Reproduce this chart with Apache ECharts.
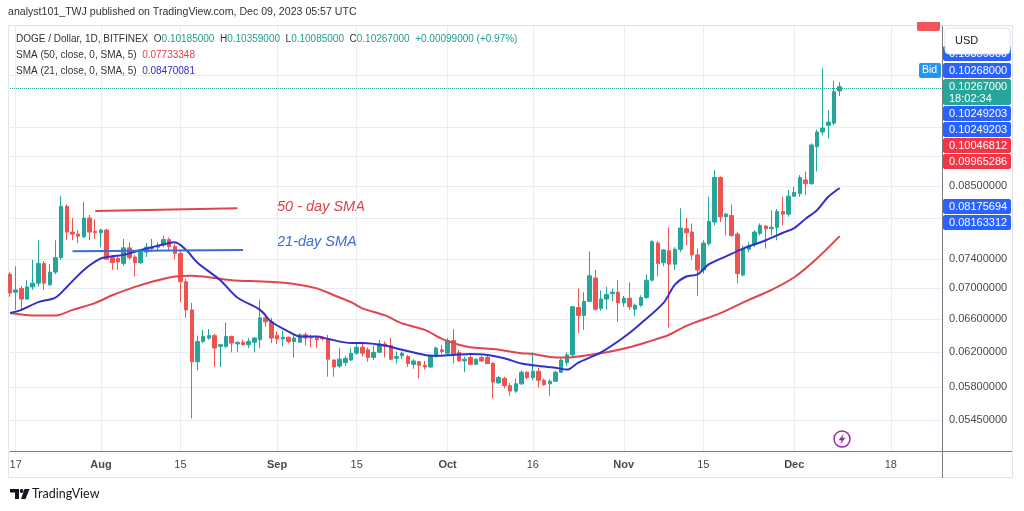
<!DOCTYPE html>
<html>
<head>
<meta charset="utf-8">
<script src="https://cdn.jsdelivr.net/npm/echarts@6.0.0/dist/echarts.min.js"></script>
<style>
html, body { margin: 0; padding: 0; background: #fff; }
#main { width: 1024px; height: 511px; }
</style>
</head>
<body>
<div id="main"></div>
<script>
// 日线数据: 2023-07-16 起, 每天一根
var startDate = '2023-07-16';
var dayCount = 165;

var opens = [
    .0719, .0695, .0700, .0686, .0702, .0707, .0734, .0705, .0722, .0742,
    .0818, .0779, .0776, .0772, .0800, .0780, .0778, .0782, .0742, .0741,
    .0734, .0756, .0743, .0735, .0750, .0755, .0757, .0760, .0768, .0758,
    .0748, .0709, .0672, .0609, .0633, .0637, .0640, .0627, .0627, .0639,
    .0630, .0632, .0629, .0632, .0635, .0662, .0657, .0640, .0636, .0638,
    .0633, .0632, .0641, .0639, .0638, .0637, .0635, .0611, .0604, .0608,
    .0611, .0619, .0626, .0623, .0614, .0620, .0630, .0628, .0613, .0616,
    .0615, .0606, .0609, .0605, .0603, .0615, .0623, .0619, .0634, .0620,
    .0610, .0614, .0606, .0614, .0614, .0607, .0585, .0590, .0582, .0576,
    .0584, .0597, .0591, .0598, .0588, .0584, .0587, .0597, .0608, .0617,
    .0675, .0665, .0683, .0714, .0674, .0686, .0693, .0695, .0681, .0687,
    .0673, .0678, .0688, .0711, .0763, .0735, .0752, .0733, .0754, .0784,
    .0779, .0746, .0725, .0762, .0794, .0864, .0802, .0804, .0776, .0718,
    .0754, .0762, .0777, .0788, .0784, .0786, .0810, .0806, .0834, .0838,
    .0860, .0854, .0916, .0942, .0954, .0958, .10185
];
var highs = [
    .0722, .0730, .0703, .0711, .0739, .0767, .0737, .0733, .0767, .0834,
    .0821, .0800, .0782, .0825, .0805, .0798, .0784, .0784, .0746, .0744,
    .0769, .0764, .0746, .0753, .0763, .0769, .0764, .0774, .0771, .0762,
    .0752, .0713, .0681, .0640, .0647, .0648, .0642, .0630, .0656, .0640,
    .0633, .0635, .0637, .0638, .0685, .0667, .0662, .0645, .0646, .0639,
    .0641, .0643, .0644, .0641, .0640, .0639, .0641, .0612, .0625, .0616,
    .0625, .0632, .0630, .0626, .0628, .0635, .0633, .0637, .0621, .0621,
    .0617, .0612, .0610, .0610, .0618, .0627, .0629, .0637, .0648, .0623,
    .0615, .0617, .0613, .0616, .0617, .0609, .0593, .0592, .0585, .0590,
    .0599, .0598, .0620, .0602, .0590, .0589, .0599, .0613, .0620, .0677,
    .0700, .0695, .0751, .0725, .0697, .0702, .0700, .0711, .0690, .0708,
    .0680, .0691, .0719, .0767, .0766, .0754, .0786, .0757, .0815, .0800,
    .0792, .0755, .0767, .0833, .0876, .0866, .0808, .0821, .0779, .0759,
    .0764, .0782, .0792, .0789, .0812, .0814, .0833, .0844, .0849, .0868,
    .0874, .0922, .0946, .1063, .0982, .1038, .10359
];
var lows = [
    .0689, .0672, .0672, .0685, .0698, .0703, .0698, .0703, .0719, .0739,
    .0767, .0767, .0763, .0770, .0767, .0769, .0757, .0739, .0725, .0725,
    .0731, .0739, .0716, .0733, .0743, .0750, .0753, .0757, .0752, .0740,
    .0682, .0662, .0547, .0599, .0631, .0635, .0603, .0603, .0625, .0620,
    .0620, .0628, .0625, .0620, .0625, .0651, .0631, .0630, .0627, .0631,
    .0614, .0631, .0628, .0626, .0625, .0634, .0592, .0592, .0602, .0604,
    .0610, .0617, .0615, .0609, .0611, .0619, .0614, .0611, .0607, .0612,
    .0603, .0601, .0590, .0600, .0602, .0614, .0618, .0617, .0607, .0609,
    .0597, .0605, .0605, .0609, .0606, .0568, .0584, .0579, .0571, .0574,
    .0583, .0589, .0588, .0580, .0582, .0571, .0586, .0596, .0604, .0615,
    .0643, .0647, .0682, .0671, .0671, .0672, .0683, .0657, .0676, .0672,
    .0664, .0676, .0686, .0709, .0716, .0730, .0650, .0725, .0750, .0760,
    .0739, .0690, .0720, .0759, .0789, .0794, .0774, .0772, .0707, .0716,
    .0750, .0757, .0774, .0755, .0774, .0767, .0789, .0802, .0833, .0833,
    .0836, .0852, .0874, .0936, .0930, .0954, .10085
];
var closes = [
    .0694, .0698, .0686, .0702, .0707, .0734, .0707, .0722, .0742, .0818,
    .0779, .0776, .0773, .0800, .0779, .0778, .0782, .0740, .0735, .0736,
    .0756, .0742, .0735, .0750, .0757, .0757, .0760, .0768, .0758, .0748,
    .0709, .0672, .0609, .0633, .0639, .0640, .0625, .0629, .0639, .0631,
    .0632, .0629, .0633, .0637, .0662, .0657, .0637, .0636, .0638, .0633,
    .0637, .0641, .0637, .0637, .0635, .0636, .0612, .0603, .0612, .0613,
    .0619, .0626, .0619, .0614, .0620, .0630, .0627, .0612, .0615, .0619,
    .0607, .0610, .0605, .0603, .0616, .0625, .0621, .0634, .0617, .0610,
    .0612, .0606, .0612, .0610, .0607, .0586, .0591, .0582, .0576, .0584,
    .0597, .0591, .0598, .0588, .0583, .0587, .0597, .0611, .0617, .0676,
    .0665, .0683, .0717, .0673, .0686, .0692, .0695, .0681, .0687, .0676,
    .0678, .0688, .0711, .0765, .0734, .0753, .0733, .0754, .0785, .0778,
    .0746, .0725, .0763, .0795, .0864, .0802, .0806, .0774, .0720, .0755,
    .0759, .0779, .0789, .0784, .0786, .0810, .0806, .0834, .0840, .0864,
    .0854, .0919, .0942, .0949, .0960, .1017, .10267
];

// 均线: 取样点 (日序号, 数值)
var sma21Idx = [0, 2, 5, 8, 10, 13, 16, 18, 20, 23, 25, 28, 29, 31, 33, 37, 40, 44, 46, 49,
    51, 54, 56, 60, 62, 66, 69, 73, 75, 78, 81, 84, 87, 90, 92, 96, 98, 100, 104, 108,
    111, 115, 117, 119, 121, 123, 126, 129, 133, 136, 138, 140, 142, 144, 146];
var sma21Val = [.0668, .0672, .0682, .0688, .0702, .0725, .0741, .0744, .0746, .0753,
    .0757, .0763, .0764, .0753, .0735, .0711, .0688, .0672, .0657, .0645,
    .0639, .0639, .0636, .0631, .0631, .0628, .0623, .0617, .0616, .0617,
    .0618, .0617, .0613, .0607, .0605, .0602, .0600, .0608, .0620, .0638,
    .0655, .0681, .0705, .0716, .0719, .0733, .0744, .0755, .0767, .0778,
    .0785, .0799, .0812, .0833, .0847];
var sma50Idx = [0, 4, 8, 11, 15, 18, 22, 25, 29, 32, 36, 39, 45, 50, 54, 57, 60, 62, 66, 69,
    73, 76, 79, 81, 85, 90, 92, 96, 98, 102, 105, 109, 112, 116, 119, 125, 130, 134, 138, 142, 146];
var sma50Val = [.0668, .0665, .0665, .0672, .0681, .0691, .0702, .0709, .0716, .0717,
    .0714, .0711, .0709, .0706, .0700, .0691, .0682, .0674, .0665, .0655,
    .0647, .0636, .0629, .0626, .0624, .0619, .0618, .0614, .0614, .0617,
    .0620, .0626, .0632, .0641, .0652, .0668, .0685, .0698, .0715, .0741, .0773];

// 手画的标注线
var note50Line = [['2023-07-31', .0811], ['2023-08-25', .0815]];
var note21Line = [['2023-07-27', .0751], ['2023-08-26', .0753]];

// 坐标轴刻度
var xTickDates = ['2023-07-17', '2023-08-01', '2023-08-15', '2023-09-01', '2023-09-15', '2023-10-01',
    '2023-10-16', '2023-11-01', '2023-11-15', '2023-12-01', '2023-12-18'];
var xTickText = ['17', 'Aug', '15', 'Sep', '15', 'Oct', '16', 'Nov', '15', 'Dec', '18'];
var priceLabels = [0.0545, 0.058, 0.062, 0.066, 0.070, 0.074, 0.085];
var priceGrid = [0.0545, 0.058, 0.062, 0.066, 0.070, 0.074, 0.080, 0.085, 0.090, 0.095, 0.105];
var priceMin = 0.05141;
var priceMax = 0.1152;
var lastPrice = 0.10267;

// 右侧价格标签
var tagsTop = ['0.10268000', '0.10267000\n18:02:34', '0.10249203', '0.10249203', '0.10046812', '0.09965286'];
var tagsTopColor = ['#2962ff', '#26a69a', '#2962ff', '#2962ff', '#f23645', '#f23645'];
var tagsLow = ['0.08175694', '0.08163312'];
var tagsLowColor = ['#2962ff', '#2962ff'];

var UP = '#26a69a', DOWN = '#ef5350';
var FONT = '"Liberation Sans", Arial, sans-serif';

$init();

function makeDates() {
    var out = [];
    var d = new Date(startDate + 'T00:00:00Z');
    for (var i = 0; i < dayCount; i++) {
        out.push(d.toISOString().slice(0, 10));
        d.setUTCDate(d.getUTCDate() + 1);
    }
    return out;
}

function isTick(index, value) {
    return xTickDates.indexOf(value) !== -1;
}

function lnPairs(idx, vals, dates) {
    var out = [];
    for (var i = 0; i < idx.length; i++) {
        out.push([dates[idx[i]], Math.log(vals[i])]);
    }
    return out;
}

function tagGraphics(texts, colors, top) {
    var out = [];
    var y = top;
    for (var i = 0; i < texts.length; i++) {
        var h = texts[i].indexOf('\n') !== -1 ? 27 : 16;
        out.push({
            type: 'rect', shape: { x: 943, y: y, width: 68, height: h - 1, r: 2 },
            style: { fill: colors[i] }, z: 50
        });
        out.push({
            type: 'text', x: 949, y: y + 2,
            style: { text: texts[i], fill: '#fff', font: '11px ' + FONT, lineHeight: 12 }, z: 51
        });
        y += h;
    }
    return out;
}

function $init() {
    var dates = makeDates();
    var candles = [];
    for (var i = 0; i < opens.length; i++) {
        candles.push([Math.log(opens[i]), Math.log(closes[i]), Math.log(lows[i]), Math.log(highs[i])]);
    }
    var lnLine = function (arr) {
        return arr.map(function (p) { return [p[0], Math.log(p[1])]; });
    };
    var lg = '10px ' + FONT;

    var graphics = [
        // 外框
        { type: 'rect', shape: { x: 8.5, y: 25.5, width: 1004, height: 452 },
          style: { fill: null, stroke: '#e0e3eb', lineWidth: 1 }, z: 1 },
        { type: 'line', shape: { x1: 942, y1: 451.5, x2: 1012, y2: 451.5 },
          style: { stroke: '#787b86', lineWidth: 1 }, z: 5 },
        { type: 'line', shape: { x1: 942.5, y1: 451, x2: 942.5, y2: 478 },
          style: { stroke: '#787b86', lineWidth: 1 }, z: 5 },
        // 标题
        { type: 'text', x: 8, y: 7,
          style: { text: 'analyst101_TWJ published on TradingView.com, Dec 09, 2023 05:57 UTC',
                   fill: '#333', font: '10.6px ' + FONT } },
        { type: 'text', x: 16, y: 34, z: 60,
          style: {
              text: '{k|DOGE / Dollar, 1D, BITFINEX  O}{v|0.10185000}{k|  H}{v|0.10359000}{k|  L}{v|0.10085000}{k|  C}{v|0.10267000}{v|  +0.00099000 (+0.97%)}',
              font: lg,
              rich: { k: { fill: '#333', font: lg }, v: { fill: '#1f9e8c', font: lg } }
          } },
        { type: 'text', x: 16, y: 50, z: 60,
          style: { text: '{k|SMA (50, close, 0, SMA, 5)  }{r|0.07733348}', font: lg,
                   rich: { k: { fill: '#333', font: lg }, r: { fill: '#e0454b', font: lg } } } },
        { type: 'text', x: 16, y: 66, z: 60,
          style: { text: '{k|SMA (21, close, 0, SMA, 5)  }{b|0.08470081}', font: lg,
                   rich: { k: { fill: '#333', font: lg }, b: { fill: '#3030c8', font: lg } } } },
        // 标注文字
        { type: 'text', x: 277, y: 199,
          style: { text: '50 - day SMA', fill: '#d9434b', font: 'italic 14.5px ' + FONT } },
        { type: 'text', x: 277, y: 234,
          style: { text: '21-day SMA', fill: '#3b6bd4', font: 'italic 14.5px ' + FONT } },
        // 顶部被截断的标签
        { type: 'rect', shape: { x: 917, y: 22, width: 23, height: 9, r: [0, 0, 2, 2] },
          style: { fill: '#f0555a' }, z: 50 },
        { type: 'rect', shape: { x: 943, y: 46, width: 68, height: 15, r: 2 },
          style: { fill: '#2962ff' }, z: 50 },
        { type: 'text', x: 949, y: 48, style: { text: '0.10359000', fill: '#fff', font: '11px ' + FONT }, z: 51 },
        { type: 'rect', shape: { x: 945, y: 28, width: 65, height: 26, r: 4 },
          style: { fill: '#fff', stroke: '#e0e3eb' }, z: 52 },
        { type: 'text', x: 955, y: 35, style: { text: 'USD', fill: '#131722', font: '11px ' + FONT }, z: 53 },
        // Bid
        { type: 'rect', shape: { x: 919, y: 63, width: 22, height: 15, r: 2 },
          style: { fill: '#2196f3' }, z: 50 },
        { type: 'text', x: 922, y: 65, style: { text: 'Bid', fill: '#fff', font: '10.5px ' + FONT }, z: 51 },
        // 闪电图标
        { type: 'circle', shape: { cx: 842, cy: 439, r: 8 },
          style: { fill: '#fff', stroke: '#9c27b0', lineWidth: 1.5 }, z: 20 },
        { type: 'polygon', shape: { points: [[843.8, 433.5], [838.6, 440.2], [841.6, 440.2], [840.2, 444.5], [845.4, 437.8], [842.4, 437.8]] },
          style: { fill: '#9c27b0' }, z: 21 },
        // TradingView 标志
        { type: 'rect', shape: { x: 10, y: 489, width: 9, height: 3.5 }, style: { fill: '#131722' } },
        { type: 'rect', shape: { x: 15, y: 489, width: 4, height: 10 }, style: { fill: '#131722' } },
        { type: 'circle', shape: { cx: 21.6, cy: 491, r: 1.9 }, style: { fill: '#131722' } },
        { type: 'polygon', shape: { points: [[24.5, 489], [29.5, 489], [25.5, 499], [21, 499]] }, style: { fill: '#131722' } },
        { type: 'text', x: 32, y: 487, style: { text: 'TradingView', fill: '#131722', font: '12.5px Lato, ' + FONT } }
    ];
    graphics = graphics.concat(tagGraphics(tagsTop, tagsTopColor, 63), tagGraphics(tagsLow, tagsLowColor, 199));

    var myChart = echarts.init(document.getElementById('main'));
    var option = {
        animation: false,
        backgroundColor: '#fff',
        grid: { left: 10, right: 82, top: 26, bottom: 60 },
        xAxis: {
            type: 'category',
            data: dates,
            boundaryGap: false,
            axisLine: { lineStyle: { color: '#787b86' } },
            axisTick: { show: false },
            axisLabel: {
                interval: isTick,
                margin: 8,
                color: '#4a4a4a',
                fontSize: 11,
                fontFamily: FONT,
                formatter: function (v) {
                    var t = xTickText[xTickDates.indexOf(v)];
                    return /^[A-Z]/.test(t) ? '{m|' + t + '}' : t;
                },
                rich: { m: { fontWeight: 'bold', fontSize: 11, color: '#4a4a4a', fontFamily: FONT } }
            },
            splitLine: { show: true, interval: isTick, lineStyle: { color: '#e9edf3' } }
        },
        yAxis: {
            type: 'value',
            position: 'right',
            min: Math.log(priceMin),
            max: Math.log(priceMax),
            axisLine: { show: true, lineStyle: { color: '#787b86' } },
            axisTick: { show: false, customValues: priceGrid.map(Math.log) },
            axisLabel: {
                customValues: priceLabels.map(Math.log),
                margin: 7,
                color: '#4a4a4a',
                fontSize: 11,
                fontFamily: FONT,
                formatter: function (v) { return Math.exp(v).toFixed(8); }
            },
            splitLine: { show: true, lineStyle: { color: '#e9edf3' } }
        },
        series: [{
            type: 'candlestick',
            data: candles,
            barWidth: 4,
            itemStyle: { color: UP, color0: DOWN, borderColor: UP, borderColor0: DOWN, borderWidth: 1 },
            markLine: {
                silent: true,
                symbol: ['none', 'none'],
                label: { show: false },
                lineStyle: { type: 'dotted', color: UP, width: 1 },
                data: [{ yAxis: Math.log(lastPrice) }]
            }
        }, {
            type: 'line', name: 'SMA50', data: lnPairs(sma50Idx, sma50Val, dates),
            smooth: 0.3, showSymbol: false, lineStyle: { color: '#e0454b', width: 2 }, z: 3
        }, {
            type: 'line', name: 'SMA21', data: lnPairs(sma21Idx, sma21Val, dates),
            smooth: 0.3, showSymbol: false, lineStyle: { color: '#3131c9', width: 2 }, z: 3
        }, {
            type: 'line', data: lnLine(note50Line), showSymbol: false,
            lineStyle: { color: '#e0454b', width: 2 }, z: 4
        }, {
            type: 'line', data: lnLine(note21Line), showSymbol: false,
            lineStyle: { color: '#3b6bd4', width: 2 }, z: 4
        }],
        graphic: graphics
    };
    myChart.setOption(option);
}
</script>
</body>
</html>
